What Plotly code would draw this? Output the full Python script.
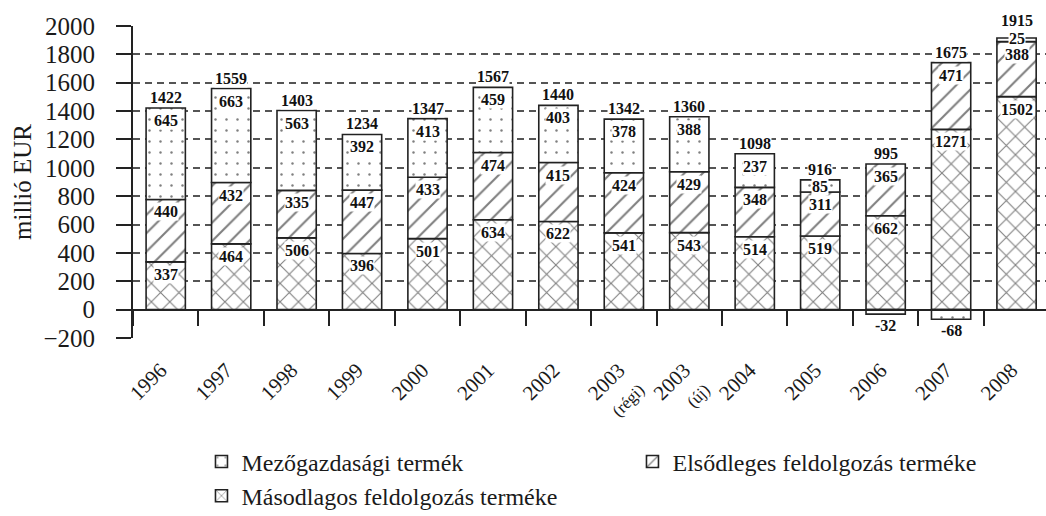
import plotly.graph_objects as go

categories = ["1996", "1997", "1998", "1999", "2000", "2001", "2002",
              "2003 (régi)", "2003 (új)", "2004", "2005", "2006", "2007", "2008"]
tick_labels = ["1996", "1997", "1998", "1999", "2000", "2001", "2002",
               "2003<br><span style='font-size:17px'>(régi)</span>",
               "2003<br><span style='font-size:17px'>(új)</span>",
               "2004", "2005", "2006", "2007", "2008"]
masodlagos = [337, 464, 506, 396, 501, 634, 622, 541, 543, 514, 519, 662, 1271, 1502]
elsodleges = [440, 432, 335, 447, 433, 474, 415, 424, 429, 348, 311, 365, 471, 388]
mezogazdasagi = [645, 663, 563, 392, 413, 459, 403, 378, 388, 237, 85, -32, -68, 25]
totals = [1422, 1559, 1403, 1234, 1347, 1567, 1440, 1342, 1360, 1098, 916, 995, 1675, 1915]

series = [
    ("Másodlagos feldolgozás terméke", masodlagos, "x", 3),
    ("Elsődleges feldolgozás terméke", elsodleges, "/", 2),
    ("Mezőgazdasági termék", mezogazdasagi, ".", 1),
]

FONT = "Liberation Serif"
INK = "#222222"

fig = go.Figure()
for name, vals, shape, rank in series:
    if shape == ".":
        pat = dict(shape=shape, fgcolor="#000000", bgcolor="white", size=11,
                   solidity=0.04, fillmode="overlay")
    else:
        pat = dict(shape=shape, fgcolor="#000000", bgcolor="white", size=13,
                   solidity=0.16, fillmode="overlay")
    fig.add_trace(go.Bar(
        x=categories, y=vals, name=name, legendrank=rank,
        marker=dict(color="white", line=dict(color=INK, width=1.6), pattern=pat),
        hoverinfo="skip",
    ))

annotations = []
lab_font = dict(family=FONT, size=16, color="#111111", weight="bold")
for i, cat in enumerate(categories):
    pos = 0
    neg = 0
    for name, vals, shape, rank in series:
        v = vals[i]
        if v >= 0:
            pos += v
            if v < 50:
                anchor, shift = "middle", 0
            elif v < 100:
                anchor, shift = "top", 3
            else:
                anchor, shift = "top", -3
            annotations.append(dict(
                x=i, y=pos, xref="x", yref="y", text=str(v),
                showarrow=False, font=lab_font, bgcolor="white", borderpad=0,
                yanchor=anchor, yshift=shift))
        else:
            neg += v
            annotations.append(dict(
                x=i, y=neg, xref="x", yref="y", text=str(v),
                showarrow=False, font=lab_font, bgcolor="white", borderpad=0,
                yanchor="top", yshift=-2))
    annotations.append(dict(
        x=i, y=pos, xref="x", yref="y", text=str(totals[i]),
        showarrow=False, font=lab_font, bgcolor="white", borderpad=0,
        yanchor="bottom", yshift=1 if totals[i] != 1915 else 8))

fig.update_layout(
    width=1046, height=516,
    margin=dict(l=133, r=0, t=26, b=178, autoexpand=False),
    paper_bgcolor="white", plot_bgcolor="white",
    barmode="relative", bargap=0.4,
    font=dict(family=FONT, size=22, color="#1a1a1a"),
    annotations=annotations,
    legend=dict(orientation="h", x=0.075, y=-0.325, xanchor="left", yanchor="top",
                entrywidth=386, font=dict(family=FONT, size=24, color="#1a1a1a"),
                tracegroupgap=0),
    showlegend=True,
)

fig.update_xaxes(
    type="category", categoryorder="array", categoryarray=categories,
    range=[-0.5, 13.45], automargin=False,
    tickmode="array", tickvals=categories, ticktext=tick_labels,
    tickangle=-45, tickfont=dict(family=FONT, size=21, color="#1a1a1a"),
    tickson="boundaries", ticks="outside", ticklen=15, tickwidth=2, tickcolor=INK,
    showline=True, linecolor=INK, linewidth=2,
    anchor="free", position=200 / 2200,
    ticklabelstandoff=39, ticklabelshift=-5,
    showgrid=False, zeroline=False,
)
fig.update_yaxes(
    range=[-200, 2000], tickmode="linear", tick0=-200, dtick=200, automargin=False,
    tickfont=dict(family=FONT, size=25, color="#1a1a1a"),
    ticks="outside", ticklen=15, tickwidth=2, tickcolor=INK,
    showline=True, linecolor=INK, linewidth=2,
    showgrid=True, gridcolor="#555555", gridwidth=1.5, griddash="7px,5px",
    zeroline=False,
    title=dict(text="millió EUR", font=dict(family=FONT, size=25, color="#1a1a1a"), standoff=5),
    ticklabelstandoff=16,
)

fig.write_html("out.html", config={"displayModeBar": False},
               post_script="document.body.style.margin='0';")
